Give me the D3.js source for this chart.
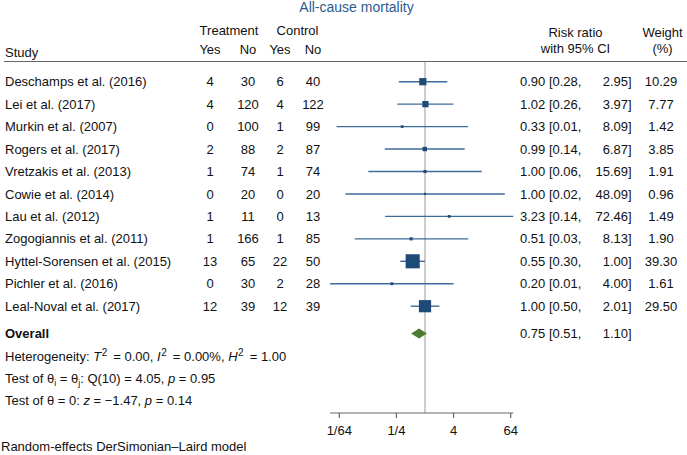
<!DOCTYPE html>
<html>
<head>
<meta charset="utf-8">
<script src="https://cdn.jsdelivr.net/npm/d3@7"></script>
<style>
  html, body { margin: 0; padding: 0; background: #fff; }
  svg { display: block; font-family: "Liberation Sans", Arial, Helvetica, sans-serif; }
</style>
</head>
<body>
<svg id="chart" width="687" height="455"></svg>
<script>
// ---- data ----
const studies = ["Deschamps et al. (2016)", "Lei et al. (2017)", "Murkin et al. (2007)", "Rogers et al. (2017)",
  "Vretzakis et al. (2013)", "Cowie et al. (2014)", "Lau et al. (2012)", "Zogogiannis et al. (2011)",
  "Hyttel-Sorensen et al. (2015)", "Pichler et al. (2016)", "Leal-Noval et al. (2017)"];
const trtYes = [4, 4, 0, 2, 1, 0, 1, 1, 13, 0, 12];
const trtNo = [30, 120, 100, 88, 74, 20, 11, 166, 65, 30, 39];
const ctlYes = [6, 4, 1, 2, 1, 0, 0, 1, 22, 2, 12];
const ctlNo = [40, 122, 99, 87, 74, 20, 13, 85, 50, 28, 39];
const rr = [0.90, 1.02, 0.33, 0.99, 1.00, 1.00, 3.23, 0.51, 0.55, 0.20, 1.00];
const ciLow = [0.28, 0.26, 0.0137, 0.142, 0.064, 0.021, 0.144, 0.033, 0.30, 0.0100, 0.50];
const ciHigh = [2.95, 3.97, 8.09, 6.87, 15.69, 48.09, 72.46, 8.13, 1.00, 4.00, 2.01];
const weights = [10.29, 7.77, 1.42, 3.85, 1.91, 0.96, 1.49, 1.90, 39.30, 1.61, 29.50];
const overallRR = 0.75, overallLow = 0.51, overallHigh = 1.10;
const tickValues = [1/64, 1/4, 4, 64];
const tickLabels = ["1/64", "1/4", "4", "64"];

// ---- setup ----
const svg = d3.select("#chart");
const TEXT = "#111";
const FS = 13;

const x = d3.scaleLog().base(2).domain([1/64, 64]).range([339.3, 510.7]);
const y = d3.scaleLinear().domain([0, studies.length - 1]).range([81.7, 306.2]);
const yOverall = 333.5;
const axisY = 413;

svg.append("rect").attr("width", 687).attr("height", 455).attr("fill", "#fff");

// title
svg.append("text").attr("x", 356.5).attr("y", 12).attr("text-anchor", "middle")
  .attr("font-size", 14).attr("fill", "#2b5b8f").text("All-cause mortality");

// header
const hdr = svg.append("g").attr("font-size", FS).attr("fill", TEXT);
hdr.append("text").attr("x", 229).attr("y", 35).attr("text-anchor", "middle").text("Treatment");
hdr.append("text").attr("x", 297.5).attr("y", 35).attr("text-anchor", "middle").text("Control");
const colX = [210, 248, 280, 313];
["Yes", "No", "Yes", "No"].forEach((t, i) =>
  hdr.append("text").attr("x", colX[i]).attr("y", 54).attr("text-anchor", "middle").text(t));
hdr.append("text").attr("x", 5).attr("y", 57).text("Study");
hdr.append("text").attr("x", 575.5).attr("y", 37).attr("text-anchor", "middle").text("Risk ratio");
hdr.append("text").attr("x", 575.5).attr("y", 53).attr("text-anchor", "middle").text("with 95% CI");
hdr.append("text").attr("x", 662.5).attr("y", 37).attr("text-anchor", "middle").text("Weight");
hdr.append("text").attr("x", 662.5).attr("y", 53).attr("text-anchor", "middle").text("(%)");

svg.append("line").attr("x1", 4).attr("x2", 687).attr("y1", 61.5).attr("y2", 61.5)
  .attr("stroke", "#666").attr("stroke-width", 1.2);

// reference line at RR = 1
svg.append("line").attr("x1", x(1)).attr("x2", x(1)).attr("y1", 62).attr("y2", axisY)
  .attr("stroke", "#aaa").attr("stroke-width", 1.2);

// study rows
const idx = d3.range(studies.length);
const rows = svg.append("g").attr("font-size", FS).attr("fill", TEXT);
idx.forEach(i => {
  const yy = y(i);
  rows.append("text").attr("x", 5).attr("y", yy).attr("dy", "0.35em").text(studies[i]);
  [trtYes[i], trtNo[i], ctlYes[i], ctlNo[i]].forEach((v, j) =>
    rows.append("text").attr("x", colX[j]).attr("y", yy).attr("dy", "0.35em")
      .attr("text-anchor", "middle").text(v));
  rows.append("text").attr("x", 520).attr("y", yy).attr("dy", "0.35em")
    .text(rr[i].toFixed(2) + " [" + ciLow[i].toFixed(2) + ",");
  rows.append("text").attr("x", 631.7).attr("y", yy).attr("dy", "0.35em").attr("text-anchor", "end")
    .text(ciHigh[i].toFixed(2) + "]");
  rows.append("text").attr("x", 661).attr("y", yy).attr("dy", "0.35em").attr("text-anchor", "middle")
    .text(weights[i].toFixed(2));
});

// CI lines and squares
const marks = svg.append("g");
marks.selectAll("line.ci").data(idx).join("line").attr("class", "ci")
  .attr("x1", i => x(ciLow[i])).attr("x2", i => x(ciHigh[i]))
  .attr("y1", i => y(i)).attr("y2", i => y(i))
  .attr("stroke", "#3f6b98").attr("stroke-width", 1.4);
const side = w => 2.25 * Math.sqrt(w);
marks.selectAll("rect.sq").data(idx).join("rect").attr("class", "sq")
  .attr("x", i => x(rr[i]) - side(weights[i]) / 2)
  .attr("y", i => y(i) - side(weights[i]) / 2)
  .attr("width", i => side(weights[i])).attr("height", i => side(weights[i]))
  .attr("fill", "#1d4a78");

// overall
rows.append("text").attr("x", 5).attr("y", yOverall).attr("dy", "0.35em")
  .attr("font-weight", "bold").text("Overall");
rows.append("text").attr("x", 520).attr("y", yOverall).attr("dy", "0.35em")
  .text(overallRR.toFixed(2) + " [" + overallLow.toFixed(2) + ",");
rows.append("text").attr("x", 631.7).attr("y", yOverall).attr("dy", "0.35em").attr("text-anchor", "end")
  .text(overallHigh.toFixed(2) + "]");
const dh = 5;
svg.append("path")
  .attr("d", `M${x(overallLow)},${yOverall} L${x(overallRR)},${yOverall - dh} L${x(overallHigh)},${yOverall} L${x(overallRR)},${yOverall + dh} Z`)
  .attr("fill", "#4b7b2d");

// stats lines
function richLine(yy, parts) {
  const t = svg.append("text").attr("x", 5).attr("y", yy).attr("dy", "0.35em")
    .attr("font-size", FS).attr("fill", TEXT);
  parts.forEach(p => {
    const s = t.append("tspan").text(p.t);
    if (p.i) s.attr("font-style", "italic");
    if (p.sup) s.attr("font-size", 10).attr("dy", -5).attr("dx", 0.5);
    if (p.sub) s.attr("font-size", 9).attr("dy", 3);
    if (p.back) s.attr("dy", p.back);
    if (p.dx) s.attr("dx", p.dx);
  });
}
richLine(356, [
  {t: "Heterogeneity: "}, {t: "T", i: 1}, {t: "2", sup: 1}, {t: " = 0.00, ", back: 5, dx: 2.5},
  {t: "I", i: 1}, {t: "2", sup: 1}, {t: " = 0.00%, ", back: 5, dx: 2.5},
  {t: "H", i: 1}, {t: "2", sup: 1}, {t: " = 1.00", back: 5, dx: 2.5}
]);
richLine(378, [
  {t: "Test of θ"}, {t: "i", sub: 1}, {t: " = θ", back: -3}, {t: "j", sub: 1},
  {t: ": Q(10) = 4.05, ", back: -3}, {t: "p", i: 1}, {t: " = 0.95"}
]);
richLine(400, [
  {t: "Test of θ = 0: "}, {t: "z", i: 1}, {t: " = −1.47, "}, {t: "p", i: 1}, {t: " = 0.14"}
]);

// x axis
const ax = svg.append("g");
ax.append("line").attr("x1", x(d3.min(ciLow))).attr("x2", x(d3.max(ciHigh)))
  .attr("y1", axisY).attr("y2", axisY).attr("stroke", "#666").attr("stroke-width", 1.2);
ax.selectAll("line.tick").data(tickValues).join("line").attr("class", "tick")
  .attr("x1", d => x(d)).attr("x2", d => x(d)).attr("y1", axisY).attr("y2", axisY + 5)
  .attr("stroke", "#666").attr("stroke-width", 1.2);
ax.selectAll("text").data(tickValues).join("text")
  .attr("x", d => x(d)).attr("y", 435).attr("text-anchor", "middle")
  .attr("font-size", FS).attr("fill", TEXT).text((d, i) => tickLabels[i]);

// footnote
svg.append("text").attr("x", 1).attr("y", 451).attr("font-size", FS).attr("fill", TEXT)
  .text("Random-effects DerSimonian–Laird model");
</script>
</body>
</html>
